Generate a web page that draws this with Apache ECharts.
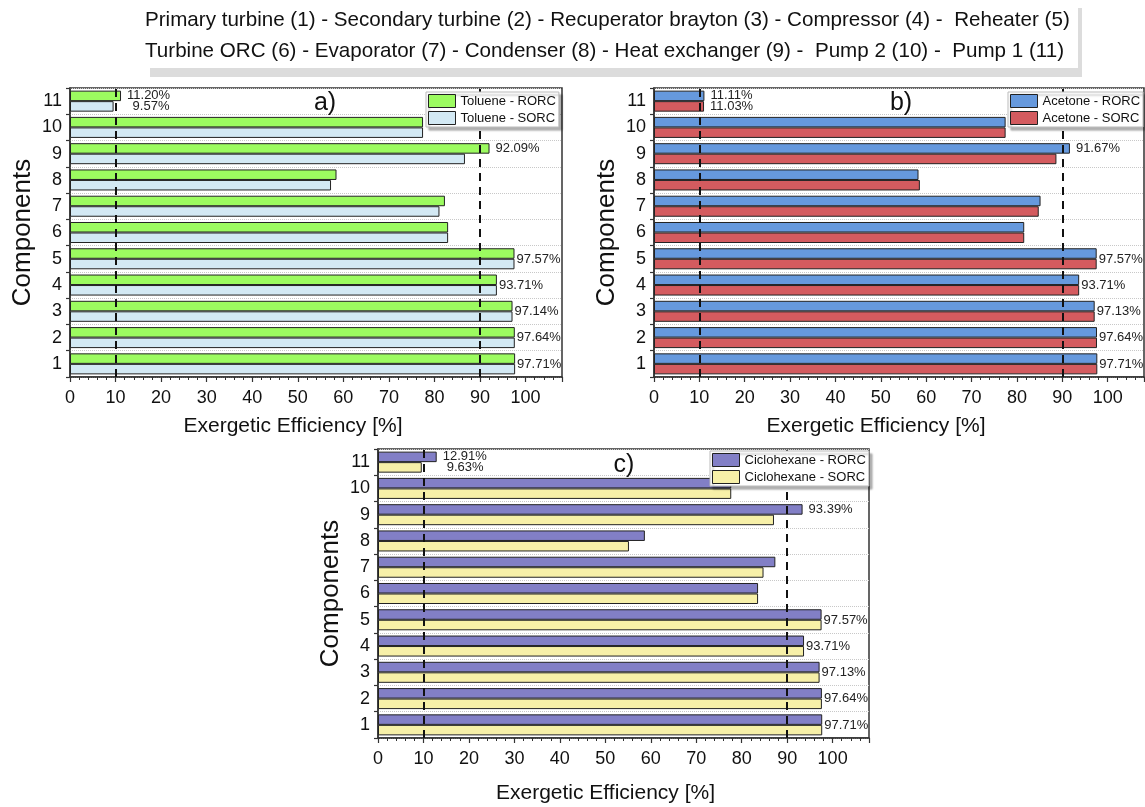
<!DOCTYPE html>
<html>
<head>
<meta charset="utf-8">
<script src="https://cdn.jsdelivr.net/npm/echarts@6/dist/echarts.min.js"></script>
<style>
html,body{margin:0;padding:0;background:#fff;}
#chart{width:1145px;height:807px;}
</style>
</head>
<body>
<div id="chart"></div>
<script>
const categories = ['1','2','3','4','5','6','7','8','9','10','11'];
const tolueneRORC = [97.71, 97.64, 97.14, 93.71, 97.57, 83.0, 82.3, 58.5, 92.09, 77.5, 11.20];
const tolueneSORC = [97.71, 97.64, 97.14, 93.71, 97.57, 83.0, 81.1, 57.3, 86.7, 77.5, 9.57];
const acetoneRORC = [97.71, 97.64, 97.13, 93.71, 97.57, 81.6, 85.2, 58.3, 91.67, 77.5, 11.11];
const acetoneSORC = [97.71, 97.64, 97.13, 93.71, 97.57, 81.6, 84.8, 58.6, 88.7, 77.5, 11.03];
const ciclohexaneRORC = [97.71, 97.64, 97.13, 93.71, 97.57, 83.6, 87.4, 58.7, 93.39, 77.7, 12.91];
const ciclohexaneSORC = [97.71, 97.64, 97.13, 93.71, 97.57, 83.6, 84.8, 55.2, 87.1, 77.7, 9.63];
const xTicks = [0, 10, 20, 30, 40, 50, 60, 70, 80, 90, 100];
const refLines = [10, 90];
const legendText = [
  'Primary turbine (1) - Secondary turbine (2) - Recuperator brayton (3) - Compressor (4) -  Reheater (5)',
  'Turbine ORC (6) - Evaporator (7) - Condenser (8) - Heat exchanger (9) -  Pump 2 (10) -  Pump 1 (11)'
];

const FONT = 'Liberation Sans, Arial, sans-serif';
const pct = v => v.toFixed(2) + '%';

// label config for RORC series
function rorcData(vals) {
  return vals.map((v, i) => {
    let lab = { show: false };
    if (i <= 4) lab = { show: true, position: 'right', distance: 2, offset: [0, 5.5], formatter: pct(v) };
    if (i === 8 || i === 10) lab = { show: true, position: 'right', distance: 6, formatter: pct(v) };
    return { value: v, label: lab };
  });
}
function sorcData(vals, dist11) {
  return vals.map((v, i) => {
    let lab = { show: false };
    if (i === 10) lab = { show: true, position: 'right', distance: dist11, formatter: pct(v) };
    return { value: v, label: lab };
  });
}

const panels = [
  { grid: { left: 70, top: 88, width: 492, height: 289 }, rorc: 'Toluene - RORC', sorc: 'Toluene - SORC',
    rv: tolueneRORC, sv: tolueneSORC, rc: '#9cfb60', sc: '#d3e9f4', d11: 19, nameGap: 39, namePad: 46,
    legend: { left: 426, top: 92 }, tag: 'a)', tagPos: [325, 103] },
  { grid: { left: 654, top: 88, width: 490, height: 289 }, rorc: 'Acetone - RORC', sorc: 'Acetone - SORC',
    rv: acetoneRORC, sv: acetoneSORC, rc: '#6699dd', sc: '#d45b5f', d11: 6, nameGap: 39, namePad: 46,
    legend: { left: 1008, top: 92 }, tag: 'b)', tagPos: [901, 103] },
  { grid: { left: 378, top: 449, width: 491, height: 289 }, rorc: 'Ciclohexane - RORC', sorc: 'Ciclohexane - SORC',
    rv: ciclohexaneRORC, sv: ciclohexaneSORC, rc: '#827fc6', sc: '#f7f0a8', d11: 25, nameGap: 45, namePad: 36,
    legend: { left: 710, top: 451 }, tag: 'c)', tagPos: [624, 465] }
];

const option = {
  backgroundColor: '#fff',
  animation: false,
  textStyle: { fontFamily: FONT },
  grid: [], xAxis: [], yAxis: [], series: [], legend: [],
  graphic: [
    { type: 'rect', shape: { x: 150, y: 8, width: 932, height: 69 }, style: { fill: '#dcdcdc' }, z: 1 },
    { type: 'rect', shape: { x: 142, y: -2, width: 936, height: 70 }, style: { fill: '#fff' }, z: 2 },
    { type: 'text', x: 145, y: 20, z: 3, style: { text: legendText[0], fontSize: 20.6, fontFamily: FONT, fill: '#111', textVerticalAlign: 'middle' } },
    { type: 'text', x: 145, y: 51, z: 3, style: { text: legendText[1], fontSize: 20.6, fontFamily: FONT, fill: '#111', textVerticalAlign: 'middle' } }
  ]
};

panels.forEach((p, k) => {
  option.grid.push(Object.assign({ show: true, borderColor: '#333', borderWidth: 1.5, containLabel: false }, p.grid));
  option.xAxis.push({
    type: 'value', gridIndex: k, min: 0, max: 108, interval: 10,
    name: 'Exergetic Efficiency [%]', nameLocation: 'middle', nameGap: p.nameGap,
    nameTextStyle: { fontSize: 21, color: '#111', fontFamily: FONT, padding: [0, p.namePad, 0, 0] },
    axisLine: { show: true, lineStyle: { color: '#333', width: 1.5 } },
    axisTick: { show: true, length: 5, lineStyle: { color: '#333', width: 1.2 } },
    minorTick: { show: true, splitNumber: 5, length: 3, lineStyle: { color: '#333', width: 1 } },
    axisLabel: { fontSize: 18, color: '#111', margin: 12, showMaxLabel: false,
      formatter: v => (xTicks.indexOf(v) >= 0 ? String(v) : '') },
    splitLine: { show: false }
  });
  option.yAxis.push({
    type: 'category', gridIndex: k, data: categories,
    name: 'Components', nameLocation: 'middle', nameGap: 34, nameRotate: 90,
    nameTextStyle: { fontSize: 26, color: '#111', fontFamily: FONT },
    axisLine: { show: true, lineStyle: { color: '#333', width: 1.5 } },
    axisTick: { show: true, length: 4, lineStyle: { color: '#333', width: 1.2 } },
    axisLabel: { fontSize: 18, color: '#111', margin: 8 },
    splitLine: { show: true, lineStyle: { color: '#c8c8c8', type: 'dotted', width: 1 } }
  });
  const common = { type: 'bar', xAxisIndex: k, yAxisIndex: k, barGap: '0%', barCategoryGap: '20%',
    label: { fontSize: 13, color: '#222', fontFamily: FONT } };
  option.series.push(Object.assign({}, common, {
    name: p.rorc, data: rorcData(p.rv),
    itemStyle: { color: p.rc, borderColor: '#222', borderWidth: 1 }
  }));
  option.series.push(Object.assign({}, common, {
    name: p.sorc, data: sorcData(p.sv, p.d11), z: 3,
    itemStyle: { color: p.sc, borderColor: '#222', borderWidth: 1 },
    markLine: { silent: true, symbol: 'none', label: { show: false },
      lineStyle: { color: '#111', type: [8, 6], width: 2 },
      data: refLines.map(x => ({ xAxis: x })) }
  }));
  option.legend.push({
    data: [p.rorc, p.sorc], orient: 'vertical', left: p.legend.left, top: p.legend.top,
    icon: 'rect', itemWidth: 27, itemHeight: 13, itemGap: 3, padding: [2, 3, 2, 2],
    itemStyle: { borderColor: '#222', borderWidth: 1 },
    backgroundColor: '#fff', borderColor: '#bbb', borderWidth: 1,
    shadowColor: 'rgba(0,0,0,0.3)', shadowOffsetX: 3, shadowOffsetY: 3, shadowBlur: 2,
    textStyle: { fontSize: 13, color: '#111', fontFamily: FONT },
    selectedMode: false, z: 10
  });
  option.graphic.push({ type: 'text', x: p.tagPos[0], y: p.tagPos[1], z: 20,
    style: { text: p.tag, fontSize: 25, fontFamily: FONT, fill: '#111', textAlign: 'center', textVerticalAlign: 'middle' } });
});

const chart = echarts.init(document.getElementById('chart'), null, { renderer: 'canvas' });
chart.setOption(option);
</script>
</body>
</html>
